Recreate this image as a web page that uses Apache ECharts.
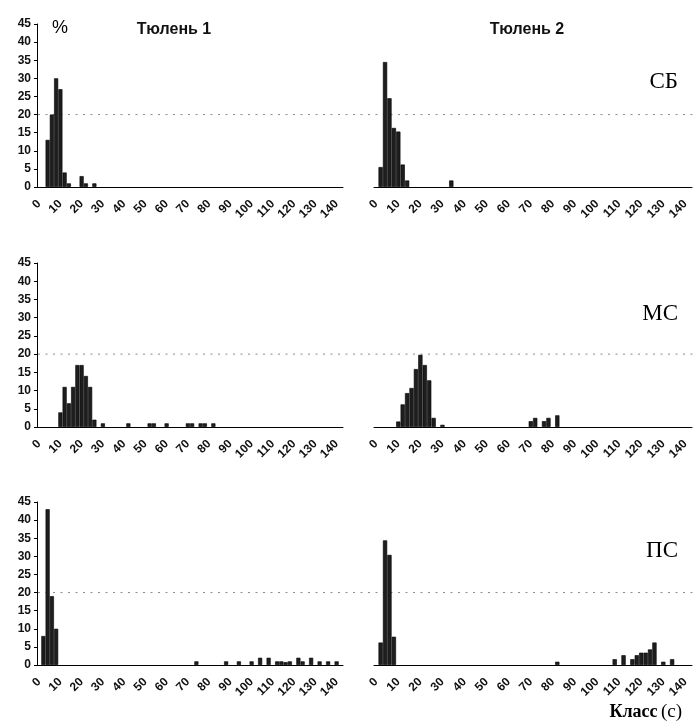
<!DOCTYPE html>
<html>
<head>
<meta charset="utf-8">
<script src="https://cdn.jsdelivr.net/npm/echarts@6.0.0/dist/echarts.min.js"></script>
<style>
  html, body { margin: 0; padding: 0; background: #fff; }
  #chart { width: 696px; height: 722px; }
</style>
</head>
<body>
<div id="chart"></div>
<script>
// class bins (s), 2 s wide
const classes = ['0', '2', '4', '6', '8', '10', '12', '14', '16', '18', '20', '22', '24', '26', '28', '30',
  '32', '34', '36', '38', '40', '42', '44', '46', '48', '50', '52', '54', '56', '58', '60', '62', '64',
  '66', '68', '70', '72', '74', '76', '78', '80', '82', '84', '86', '88', '90', '92', '94', '96', '98',
  '100', '102', '104', '106', '108', '110', '112', '114', '116', '118', '120', '122', '124', '126',
  '128', '130', '132', '134', '136', '138', '140', '142']

const seals = ['Тюлень 1', 'Тюлень 2']
const states = ['СБ', 'МС', 'ПС']

// [class, %]
const sb1 = [[4, 13], [6, 20], [8, 30], [10, 27], [12, 4], [14, 1], [20, 3], [22, 1], [26, 1]]
const sb2 = [[2, 5.5], [4, 34.5], [6, 24.5], [8, 16.3], [10, 15.3], [12, 6.2], [14, 1.8], [34, 1.8]]
const mc1 = [[10, 4], [12, 11], [14, 6.5], [16, 11], [18, 17], [20, 17], [22, 14], [24, 11], [26, 2],
  [30, 1], [42, 1], [52, 1], [54, 1], [60, 1], [70, 1], [72, 1], [76, 1], [78, 1], [82, 1]]
const mc2 = [[10, 1.5], [12, 6.2], [14, 9.3], [16, 10.7], [18, 15.9], [20, 19.8], [22, 17], [24, 12.8],
  [26, 2.5], [30, 0.6], [70, 1.6], [72, 2.5], [76, 1.6], [78, 2.5], [82, 3.2]]
const ps1 = [[2, 8], [4, 43], [6, 19], [8, 10], [74, 1], [88, 1], [94, 1], [100, 1], [104, 2], [108, 2],
  [112, 1], [114, 1], [116, 0.8], [118, 1], [122, 2], [124, 1], [128, 2], [132, 1], [136, 1], [140, 1]]
const ps2 = [[2, 6.2], [4, 34.4], [6, 30.4], [8, 7.8], [82, 0.9], [108, 1.6], [112, 2.7], [116, 1.6],
  [118, 2.7], [120, 3.4], [122, 3.4], [124, 4.3], [126, 6.2], [130, 0.9], [134, 1.6]]

const panels = [[sb1, sb2], [mc1, mc2], [ps1, ps2]]
const refLevel = 20

const font = 'Liberation Sans, Arial, sans-serif'
const serif = 'Liberation Serif, Times New Roman, serif'
const rows = [{ top: 24, height: 163 }, { top: 263, height: 164 }, { top: 502, height: 163 }]
const cols = [{ left: 37, width: 306 }, { left: 374, width: 318 }]

const grid = []
const xAxis = []
const yAxis = []
const series = []

rows.forEach((row, r) => {
  cols.forEach((col, c) => {
    const i = r * 2 + c
    const isLeft = c === 0
    grid.push({ left: col.left, width: col.width, top: row.top, height: row.height })
    xAxis.push({
      type: 'category',
      gridIndex: i,
      data: classes,
      boundaryGap: true,
      axisLine: { lineStyle: { color: '#000', width: 1 } },
      axisTick: { interval: 1, length: 4, lineStyle: { color: '#000' } },
      axisLabel: {
        interval: 4,
        rotate: 45,
        margin: 15,
        fontSize: 12,
        fontWeight: 'bold',
        color: '#111',
        fontFamily: font
      }
    })
    yAxis.push({
      type: 'value',
      gridIndex: i,
      min: 0,
      max: 45,
      interval: 5,
      splitLine: { show: false },
      axisLine: { show: isLeft, lineStyle: { color: '#000', width: 1 } },
      axisTick: { show: isLeft, length: 3, lineStyle: { color: '#000' } },
      axisLabel: {
        show: isLeft,
        margin: 6,
        fontSize: 12,
        fontWeight: 'bold',
        color: '#111',
        fontFamily: font
      }
    })
    series.push({
      type: 'bar',
      xAxisIndex: i,
      yAxisIndex: i,
      barCategoryGap: '4%',
      itemStyle: { color: '#1e1e1e', borderColor: '#000', borderWidth: 0.6 },
      data: panels[r][c].map(d => [classes.indexOf(String(d[0])), d[1]])
    })
  })
})

const chart = echarts.init(document.getElementById('chart'), null, { renderer: 'canvas' })
chart.setOption({
  animation: false,
  backgroundColor: '#fff',
  grid,
  xAxis,
  yAxis,
  series
})

// dotted reference line at 20 %, across both panels of a row
const graphic = []
rows.forEach((row, r) => {
  const y = chart.convertToPixel({ yAxisIndex: r * 2 }, refLevel)
  graphic.push({
    type: 'line',
    shape: { x1: cols[0].left + 1, y1: y, x2: 696, y2: y },
    style: { stroke: '#8a8a8a', lineWidth: 1, lineDash: [2, 5.5] },
    z: 1
  })
  graphic.push({
    type: 'text',
    right: 18,
    top: y - [44, 52, 53][r],
    style: { text: states[r], font: '23px ' + serif, fill: '#000' }
  })
})

seals.forEach((name, c) => {
  graphic.push({
    type: 'text',
    x: [174, 527][c],
    y: 30,
    style: {
      text: name,
      font: 'bold 16px ' + font,
      fill: '#111',
      align: 'center',
      verticalAlign: 'middle'
    }
  })
})

graphic.push({
  type: 'text',
  x: 60,
  y: 28,
  style: { text: '%', font: '18px ' + font, fill: '#000', align: 'center', verticalAlign: 'middle' }
})

graphic.push({
  type: 'text',
  right: 14,
  top: 703,
  style: {
    text: '{b|Класс} {n|(с)}',
    rich: {
      b: { font: 'bold 18px ' + serif, fill: '#000' },
      n: { font: '19px ' + serif, fill: '#000' }
    }
  }
})

chart.setOption({ graphic })
</script>
</body>
</html>
